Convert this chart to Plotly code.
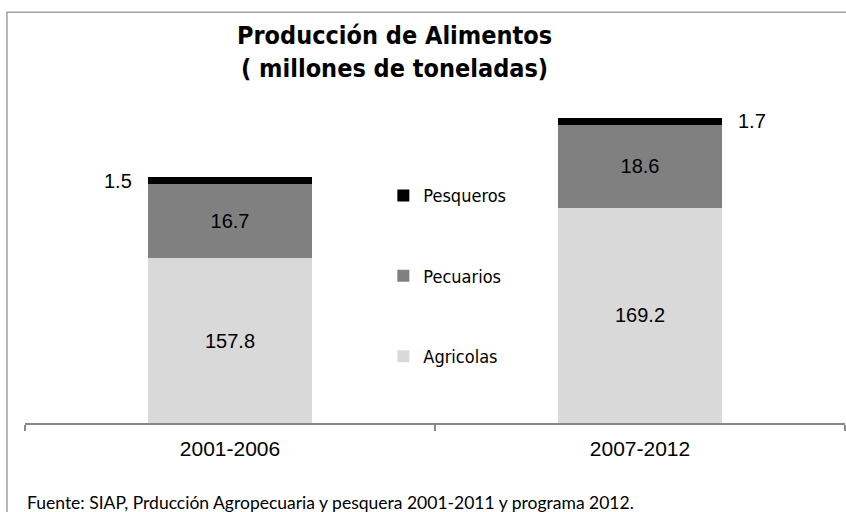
import plotly.graph_objects as go

PERIODS    = ["2001-2006", "2007-2012"]
AGRICOLAS  = [157.8, 169.2]
PECUARIOS  = [16.7, 18.6]
PESQUEROS  = [1.5, 1.7]

TITLE  = "Producción de Alimentos<br>( millones de toneladas)"
SOURCE = "Fuente: SIAP, Prducción Agropecuaria y pesquera 2001-2011 y programa 2012."

COLORS = {
    "Agricolas": "#d9d9d9",
    "Pecuarios": "#808080",
    "Pesqueros": "#000000",
}
LEGEND_RANK = {"Pesqueros": 1, "Pecuarios": 2, "Agricolas": 3}

Y_MIN = 120.7
Y_MAX = 202.45
BAR_W = 0.4
NARROW = "DejaVu Sans Condensed, Liberation Sans Narrow, Liberation Sans, sans-serif"
SANS = "Liberation Sans, Arial, sans-serif"

fig = go.Figure()
for name, values in [
    ("Agricolas", AGRICOLAS),
    ("Pecuarios", PECUARIOS),
    ("Pesqueros", PESQUEROS),
]:
    fig.add_trace(go.Bar(
        name         = name,
        x            = PERIODS,
        y            = values,
        width        = BAR_W,
        marker_color = COLORS[name],
        marker_line_width = 0,
        legendgroup  = name,
        legendrank   = LEGEND_RANK[name],
        text         = [f"{v:.1f}" for v in values] if name == "Pecuarios" else None,
        textposition = "inside",
        insidetextanchor = "middle",
        textfont     = dict(family=SANS, size=20, color="#000000"),
        hoverinfo    = "skip",
    ))

# Agricolas labels, centred in the visible part of the bar
for p, v in zip(PERIODS, AGRICOLAS):
    fig.add_annotation(x=p, y=(Y_MIN + v) / 2, text=f"{v:.1f}", showarrow=False,
                       font=dict(family=SANS, size=20, color="#000000"))

# Pesqueros labels beside the thin top segment
tops = [a + b + c / 2 for a, b, c in zip(AGRICOLAS, PECUARIOS, PESQUEROS)]
for i, (v, t) in enumerate(zip(PESQUEROS, tops)):
    side = -1 if i == 0 else 1
    fig.add_annotation(x=i + side * BAR_W / 2, y=t, text=f"{v:.1f}", showarrow=False,
                       xanchor="right" if side < 0 else "left", xshift=side * 14,
                       font=dict(family=SANS, size=20, color="#000000"))

fig.add_annotation(xref="paper", yref="paper", x=0.451, y=1.021, text=TITLE,
                   showarrow=False, align="center", xanchor="center", yanchor="middle",
                   font=dict(family=NARROW, size=25, color="#000000", weight="bold"))

fig.add_annotation(xref="paper", yref="paper", x=0.0, y=-0.218, text=SOURCE,
                   xanchor="left", yanchor="middle", showarrow=False,
                   font=dict(family="Lato, Open Sans, sans-serif", size=17.5, color="#000000"))

fig.add_shape(type="rect", xref="paper", yref="paper",
              x0=-0.022, x1=1.2, y0=-0.6, y1=1.1314,
              line=dict(color="#a0a0a0", width=1.5))

fig.update_layout(
    barmode       = "stack",
    width         = 846,
    height        = 512,
    margin        = dict(l=25, r=1, t=60, b=89),
    paper_bgcolor = "white",
    plot_bgcolor  = "white",
    showlegend    = True,
    legend        = dict(x=0.437, y=0.677, xanchor="left", yanchor="top",
                         traceorder="grouped", tracegroupgap=54,
                         font=dict(family=NARROW, size=18, color="#000000"),
                         bgcolor="rgba(0,0,0,0)"),
    xaxis         = dict(showline=True, linecolor="#888888", linewidth=1.5,
                         ticks="outside", tickson="boundaries", ticklen=6,
                         tickcolor="#888888", tickwidth=1.5, ticklabelstandoff=6,
                         tickfont=dict(family=SANS, size=21, color="#000000"),
                         range=[-0.5, 1.5], fixedrange=True),
    yaxis         = dict(range=[Y_MIN, Y_MAX], visible=False, showgrid=False,
                         fixedrange=True),
)

fig.write_html("out.html", config={"displayModeBar": False},
               post_script="document.body.style.margin='0';")
